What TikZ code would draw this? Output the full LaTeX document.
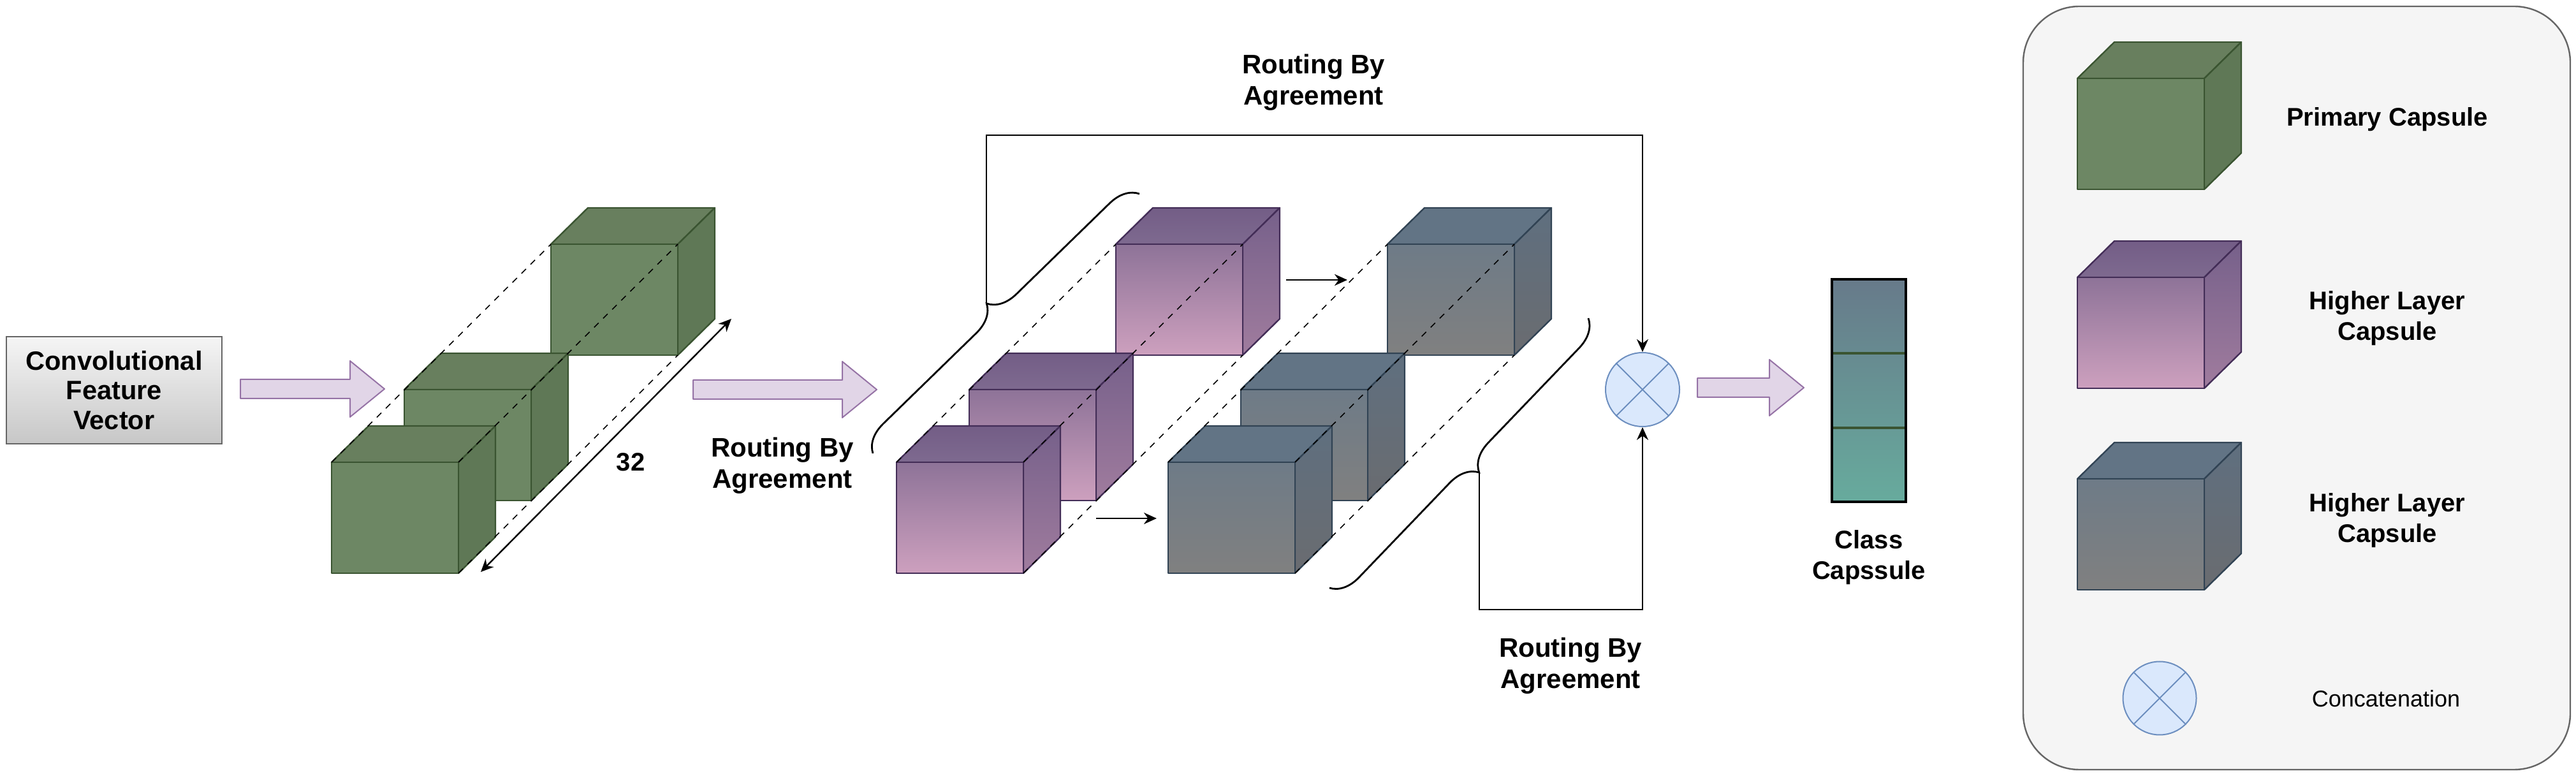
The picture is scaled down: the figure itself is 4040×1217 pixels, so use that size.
\documentclass[tikz,border=0pt]{standalone}
\usepackage{fontspec}
\setmainfont{Liberation Sans}
\usetikzlibrary{decorations.pathreplacing,arrows.meta,calc}
\definecolor{gfrontc}{HTML}{6D8764}
\definecolor{gtopc}{HTML}{687F5E}
\definecolor{gsidec}{HTML}{5F7856}
\definecolor{gstroke}{HTML}{3A5431}
\definecolor{pfrontT}{HTML}{8E7398}
\definecolor{pfrontB}{HTML}{CDA0BE}
\definecolor{ptopc}{HTML}{735D86}
\definecolor{psideT}{HTML}{76608A}
\definecolor{psideB}{HTML}{A07C9E}
\definecolor{pstroke}{HTML}{432D57}
\definecolor{sfrontT}{HTML}{6E7B87}
\definecolor{sfrontB}{HTML}{808080}
\definecolor{stopc}{HTML}{627485}
\definecolor{ssideT}{HTML}{5F6F7F}
\definecolor{ssideB}{HTML}{6A6C70}
\definecolor{sstroke}{HTML}{314354}
\definecolor{clsT}{HTML}{677A8A}
\definecolor{clsB}{HTML}{67AB9D}
\definecolor{arrfill}{HTML}{E1D5E7}
\definecolor{arrdraw}{HTML}{9673A6}
\definecolor{ccfill}{HTML}{DAE8FC}
\definecolor{ccdraw}{HTML}{6C8EBF}
\definecolor{legfill}{HTML}{F5F5F5}
\definecolor{legdraw}{HTML}{666666}
\tikzset{
  facebase/.style={line width=0.6pt, line join=round},
  gtop/.style={facebase, fill=gtopc, draw=gstroke},
  gside/.style={facebase, fill=gsidec, draw=gstroke},
  gfront/.style={facebase, fill=gfrontc, draw=gstroke},
  ptop/.style={facebase, top color=ptopc, bottom color=ptopc!92!white, draw=pstroke},
  pside/.style={facebase, top color=psideT, bottom color=psideB, draw=pstroke},
  pfront/.style={facebase, top color=pfrontT, bottom color=pfrontB, draw=pstroke},
  stop/.style={facebase, fill=stopc, draw=sstroke},
  sside/.style={facebase, top color=ssideT, bottom color=ssideB, draw=sstroke},
  sfront/.style={facebase, top color=sfrontT, bottom color=sfrontB, draw=sstroke},
  dashline/.style={black, line width=0.4pt, dash pattern=on 2.5pt off 2.5pt},
  barrow/.style={fill=arrfill, draw=arrdraw, line width=0.5pt, line join=round},
  concat/.style={circle, fill=ccfill, draw=ccdraw, line width=0.5pt, minimum size=29pt, inner sep=0pt},
  lbl/.style={font=\fontsize{10}{12}\selectfont\bfseries, align=center, inner sep=0pt},
  rlbl/.style={font=\fontsize{10.5}{12.3}\selectfont\bfseries, align=center, inner sep=0pt},
  conn/.style={black, line width=0.7pt},
  tip/.style={-{Stealth[length=5pt,width=4.5pt]}},
  bracestyle/.style={black, line width=0.7pt, decorate, decoration={brace, amplitude=11pt}}
}
\newcommand{\capcube}[3]{%
  \path[#3top] (#1,#2) -- ++(58,-57) -- ++(199,0) -- ++(-58,57) -- cycle;
  \path[#3side] (#1+199,#2) -- ++(58,-57) -- ++(0,174) -- ++(-58,57) -- cycle;
  \path[#3front] (#1,#2) rectangle ++(199,174);
}
\newcommand{\capgroup}[3]{%
  \capcube{#1+344}{#2-342}{#3}
  \capcube{#1+114}{#2-114}{#3}
  \capcube{#1}{#2}{#3}
  \draw[dashline] (#1,#2) -- ++(344,-342);
  \draw[dashline] (#1+199,#2) -- ++(344,-342);
  \draw[dashline] (#1+199,#2+174) -- ++(344,-342);
}
\newcommand{\blockarrow}[3]{%
  \path[barrow] (#1,#3-15) -- (#2-54,#3-15) -- (#2-54,#3-44) -- (#2,#3)
    -- (#2-54,#3+44) -- (#2-54,#3+15) -- (#1,#3+15) -- cycle;
}
\begin{document}
\begin{tikzpicture}[x=0.25pt, y=-0.25pt]
\useasboundingbox (0,0) rectangle (4040,1217);
\fill[white] (0,0) rectangle (4040,1217);

% input box
\node[draw=legdraw, line width=0.6pt, top color=legfill, bottom color=black!22,
      minimum width=84.5pt, minimum height=42pt, inner sep=0pt, align=center,
      font=\fontsize{10.4}{11.6}\selectfont\bfseries] (conv) at (179,612)
      {Convolutional\\Feature\\Vector};

% block arrows
\blockarrow{377}{603}{610}
\blockarrow{1087}{1375}{611}
\blockarrow{2662}{2829}{608}

% capsule groups
\capgroup{520}{725}{g}
\capgroup{1406}{725}{p}
\capgroup{1832}{725}{s}

% 32 dimension arrow
\coordinate (d1) at (754,897);
\coordinate (d2) at (1147,500);
\draw[black, line width=0.6pt, {Stealth[length=5pt,width=4.5pt]}-{Stealth[length=5pt,width=4.5pt]}] (d1) -- (d2);
\node[lbl] (n32) at (989,725) {32};

% label under arrow 2
\node[rlbl] (rba1) at (1227,730) {Routing By\\Agreement};

% small arrows purple -> gray
\coordinate (pa1) at (2017,439);
\coordinate (pa2) at (2113,439);
\coordinate (pb1) at (1719,813);
\coordinate (pb2) at (1814,813);
\draw[conn, tip] (pa1) -- (pa2);
\draw[conn, tip] (pb1) -- (pb2);

% braces
\draw[bracestyle] (1369,711) -- (1787,304);
\draw[bracestyle] (2491,499) -- (2085,922);
\coordinate (lbt) at (1547,476);
\coordinate (rbt) at (2320,741);

% concatenation
\node[concat] (cc) at (2576,611) {};
\draw[ccdraw, line width=0.5pt] (cc.north west) -- (cc.south east) (cc.north east) -- (cc.south west);

% routing lines
\coordinate (topR) at (2576,212);
\coordinate (botR) at (2576,956);
\draw[conn, tip] (lbt) |- (topR) -- (cc.north);
\draw[conn, tip] (rbt) |- (botR) -- (cc.south);
\node[rlbl] (rbatop) at (2060,129) {Routing By\\Agreement};
\node[rlbl] (rbabot) at (2463,1044) {Routing By\\Agreement};

% class capsule
\node[top color=clsT, bottom color=clsB, minimum width=29pt, minimum height=87.25pt,
      inner sep=0pt, outer sep=0pt] (cls) at (2931,612.5) {};
\draw[gstroke, line width=1pt] ($(cls.north west)!1/3!(cls.south west)$) -- ($(cls.north east)!1/3!(cls.south east)$);
\draw[gstroke, line width=1pt] ($(cls.north west)!2/3!(cls.south west)$) -- ($(cls.north east)!2/3!(cls.south east)$);
\draw[black, line width=1.2pt] (cls.south west) rectangle (cls.north east);
\node[lbl] (clslbl) at (2931,874) {Class\\Capssule};

% legend
\node[draw=legdraw, fill=legfill, line width=0.6pt, rounded corners=22pt,
      minimum width=214.5pt, minimum height=299.25pt, inner sep=0pt] (legend) at (3602,608.5) {};
\capcube{3258}{123}{g}
\capcube{3258}{435}{p}
\capcube{3258}{751}{s}
\node[concat, minimum size=28.75pt] (lc) at (3387,1095) {};
\draw[ccdraw, line width=0.5pt] (lc.north west) -- (lc.south east) (lc.north east) -- (lc.south west);
\node[lbl, anchor=base] (l1) at (3744,198) {Primary Capsule};
\node[lbl] (l2) at (3744,499) {Higher Layer\\Capsule};
\node[lbl] (l3) at (3744,816) {Higher Layer\\Capsule};
\node[font=\fontsize{9}{11}\selectfont, anchor=base, inner sep=0pt] (l4) at (3742,1109) {Concatenation};
\end{tikzpicture}
\end{document}
